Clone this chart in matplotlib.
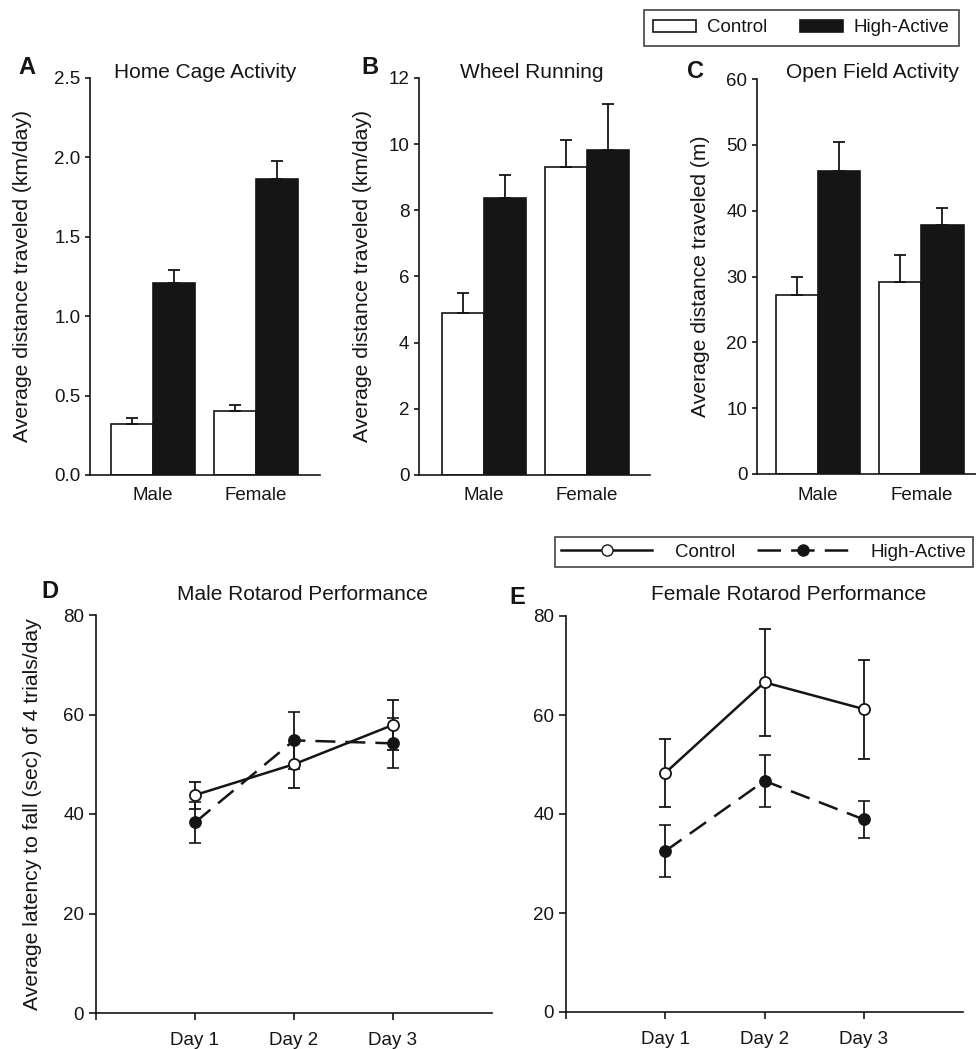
import matplotlib
matplotlib.use('Agg')
import matplotlib.pyplot as plt
from matplotlib.patches import Patch
from matplotlib.lines import Line2D
import numpy as np

plt.rcParams['font.family'] = ['Liberation Sans', 'DejaVu Sans']

# ---------------- data ----------------
groups = ['Male', 'Female']
home_control = [0.32, 0.40]
home_control_err = [0.036, 0.038]
home_active = [1.21, 1.866]
home_active_err = [0.084, 0.109]

wheel_control = [4.89, 9.31]
wheel_control_err = [0.61, 0.82]
wheel_active = [8.37, 9.81]
wheel_active_err = [0.71, 1.41]

open_control = [27.2, 29.2]
open_control_err = [2.8, 4.0]
open_active = [46.1, 37.8]
open_active_err = [4.3, 2.6]

days = ['Day 1', 'Day 2', 'Day 3']
male_control = [43.8, 50.0, 57.9]
male_control_err = [2.7, 4.7, 5.1]
male_active = [38.3, 54.8, 54.2]
male_active_err = [4.1, 5.8, 5.0]
female_control = [48.3, 66.6, 61.2]
female_control_err = [6.8, 10.8, 10.0]
female_active = [32.5, 46.7, 38.9]
female_active_err = [5.2, 5.2, 3.7]

# ---------------- figure ----------------
W, H = 976, 1049
fig = plt.figure(figsize=(W / 100, H / 100), dpi=100)
INK = '#151515'
TICK_FS = 13.5
TITLE_FS = 15
LABEL_FS = 15.2
LETTER_FS = 17
DASH = (0, (8, 4))
LEG_DASH = (0, (9.4, 4.05))
MS = 8


def px_axes(left, top, right, bottom):
    return fig.add_axes([left / W, 1 - bottom / H, (right - left) / W, (bottom - top) / H])


def fig_text(x, y, s, **kw):
    fig.text(x / W, 1 - y / H, s, ha='center', va='center', color=INK, **kw)


def style(ax, ticklen):
    for s in ['top', 'right']:
        ax.spines[s].set_visible(False)
    for s in ['left', 'bottom']:
        ax.spines[s].set_linewidth(1.2)
        ax.spines[s].set_color(INK)
    ax.tick_params(axis='both', labelsize=TICK_FS, colors=INK, width=1.2, length=ticklen,
                   direction='out')


def bar_panel(box, ctrl, ctrl_err, act, act_err, xlim, ylim, yticks, fmt, ylabel, ylabel_x,
              title, title_xy, letter, letter_xy):
    ax = px_axes(*box)
    pos = np.arange(1, len(groups) + 1)
    w = 0.41
    ek = dict(ecolor=INK, elinewidth=1.3, capthick=1.3)
    z = np.zeros(len(ctrl))
    ax.bar(pos - w / 2, ctrl, w, color='white', edgecolor=INK, linewidth=1.2,
           yerr=[z, ctrl_err], capsize=4.5, error_kw=ek)
    ax.bar(pos + w / 2, act, w, color=INK, edgecolor=INK, linewidth=1.2,
           yerr=[z, act_err], capsize=4.5, error_kw=ek)
    ax.set_xlim(*xlim)
    ax.set_ylim(*ylim)
    ax.set_xticks(pos)
    ax.set_xticklabels(groups)
    ax.set_yticks(yticks)
    ax.set_yticklabels([fmt.format(v) for v in yticks])
    style(ax, 3.5)
    ax.tick_params(axis='x', length=0, pad=9)
    ax.set_ylabel(ylabel, fontsize=LABEL_FS, color=INK)
    ax.yaxis.set_label_coords(ylabel_x, 0.5)
    fig_text(*title_xy, title, fontsize=TITLE_FS)
    fig_text(*letter_xy, letter, fontsize=LETTER_FS, fontweight='bold')
    return ax


bar_panel((90, 78, 320, 475), home_control, home_control_err, home_active, home_active_err,
          (0.388, 2.62), (0, 2.5), [0, 0.5, 1.0, 1.5, 2.0, 2.5], '{:.1f}',
          'Average distance traveled (km/day)', -0.252,
          'Home Cage Activity', (205, 73), 'A', (27, 68))
bar_panel((419, 78, 650, 475), wheel_control, wheel_control_err, wheel_active, wheel_active_err,
          (0.369, 2.61), (0, 12), [0, 2, 4, 6, 8, 10, 12], '{:d}',
          'Average distance traveled (km/day)', -0.203,
          'Wheel Running', (532, 72), 'B', (370, 68))
bar_panel((757, 79, 976, 474), open_control, open_control_err, open_active, open_active_err,
          (0.408, 2.53), (0, 60), [0, 10, 20, 30, 40, 50, 60], '{:d}',
          'Average distance traveled (m)', -0.215,
          'Open Field Activity', (873, 72), 'C', (695, 71))


def line_panel(box, ctrl, ctrl_err, act, act_err, xmax, ylabel, title, title_xy, letter, letter_xy):
    ax = px_axes(*box)
    x = np.arange(1, len(days) + 1)
    ax.errorbar(x, act, yerr=act_err, color=INK, linestyle=DASH, linewidth=1.8,
                marker='o', markersize=MS, mfc=INK, mec=INK, mew=1.2,
                capsize=4.3, elinewidth=1.3, capthick=1.3, zorder=3)
    ax.errorbar(x, ctrl, yerr=ctrl_err, color=INK, linestyle='-', linewidth=1.8,
                marker='o', markersize=MS, mfc='white', mec=INK, mew=1.3,
                capsize=4.3, elinewidth=1.3, capthick=1.3, zorder=4)
    ax.set_xlim(0, xmax)
    ax.set_ylim(0, 80)
    ticks = list(range(0, 4))
    ax.set_xticks(ticks)
    ax.set_xticklabels([''] + days)
    ax.set_yticks([0, 20, 40, 60, 80])
    style(ax, 5)
    ax.tick_params(axis='x', pad=9)
    if ylabel:
        ax.set_ylabel(ylabel, fontsize=LABEL_FS, color=INK)
        ax.yaxis.set_label_coords(-0.136, 0.5)
    fig_text(*title_xy, title, fontsize=TITLE_FS)
    fig_text(*letter_xy, letter, fontsize=LETTER_FS, fontweight='bold')
    return ax


line_panel((96, 615, 492, 1013), male_control, male_control_err, male_active, male_active_err,
           4.0, 'Average latency to fall (sec) of 4 trials/day',
           'Male Rotarod Performance', (302, 594), 'D', (50, 592))
line_panel((566, 616, 963, 1012), female_control, female_control_err, female_active,
           female_active_err, 4.0, None,
           'Female Rotarod Performance', (789, 595), 'E', (517, 597))

# ---------------- legends ----------------
bar_handles = [Patch(facecolor='white', edgecolor=INK, linewidth=1.2, label='Control'),
               Patch(facecolor=INK, edgecolor=INK, linewidth=1.2, label='High-Active')]
leg1 = fig.legend(handles=bar_handles, loc='upper right', bbox_to_anchor=(959 / W, 1 - 10 / H),
                  ncol=2, frameon=True, fancybox=False, edgecolor=INK, fontsize=TICK_FS,
                  handlelength=2.3, handleheight=0.6, handletextpad=0.6, columnspacing=1.7,
                  borderpad=0.5, borderaxespad=0)
leg1.get_frame().set_linewidth(1.2)
for t in leg1.get_texts():
    t.set_color(INK)

line_handles = [Line2D([], [], color=INK, linestyle='-', linewidth=1.8, marker='o', markersize=MS,
                       mfc='white', mec=INK, label='Control'),
                Line2D([], [], color=INK, linestyle=LEG_DASH, linewidth=1.8, marker='o',
                       markersize=MS, mfc=INK, mec=INK, label='High-Active')]
leg2 = fig.legend(handles=line_handles, loc='upper right', bbox_to_anchor=(973 / W, 1 - 537 / H),
                  ncol=2, frameon=True, fancybox=False, edgecolor=INK, fontsize=TICK_FS,
                  handlelength=4.85, handletextpad=1.2, columnspacing=1.2, numpoints=1,
                  borderpad=0.35, borderaxespad=0)
leg2.get_frame().set_linewidth(1.2)
for t in leg2.get_texts():
    t.set_color(INK)

fig.savefig('out.png', dpi=100)
